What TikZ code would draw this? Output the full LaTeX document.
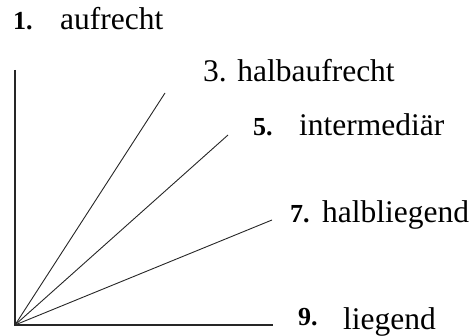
\documentclass[tikz,border=0pt]{standalone}
\usepackage{fontspec}
\setmainfont{Liberation Serif}
\usetikzlibrary{positioning}

\tikzset{
    lbl/.style={anchor=base west, inner sep=0pt, font=\fontsize{31.5}{36}\selectfont},
    num/.style={anchor=base west, inner sep=0pt, font=\fontsize{26}{30}\selectfont\bfseries},
    axis/.style={line width=1.5pt, color=black!85},
    ray/.style={line width=0.9pt, color=black!85}
}

\begin{document}
\begin{tikzpicture}[x=1pt, y=-1pt]
    \useasboundingbox (0,0) rectangle (475,336);
    % origin and ray ends
    \coordinate (O) at (15,325);
    \coordinate (up) at (15,70);
    \coordinate (r3) at (165,93);
    \coordinate (r5) at (228,135);
    \coordinate (r7) at (272,220);
    \coordinate (flat) at (273,325);
    \draw[axis] (up) -- (O) -- (flat);
    \draw[ray] (O) -- (r3);
    \draw[ray] (O) -- (r5);
    \draw[ray] (O) -- (r7);
    % labels
    \node[num] (n1) at (13,30) {1.};
    \node[lbl] (l1) at (60,30) {aufrecht};
    \node[lbl] (l3) at (203,82) {3. halbaufrecht};
    \node[num] (n5) at (253,136) {5.};
    \node[lbl] (l5) at (299,136) {intermediär};
    \node[num] (n7) at (290,223) {7.};
    \node[lbl] (l7) at (322,223) {halbliegend};
    \node[num] (n9) at (298,326) {9.};
    \node[lbl] (l9) at (343,330) {liegend};
\end{tikzpicture}
\end{document}
